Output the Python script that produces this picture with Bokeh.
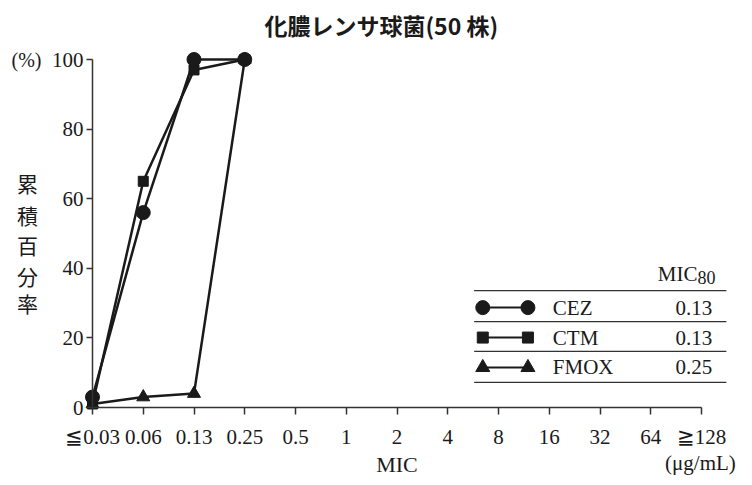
from bokeh.plotting import figure
from bokeh.models import Range1d, FixedTicker, Label
from bokeh.embed import file_html
from bokeh.resources import INLINE

# ---- data ----
categories = ["≦0.03", "0.06", "0.13", "0.25", "0.5", "1", "2", "4", "8", "16", "32", "64", "≧128"]
cez = [3, 56, 100, 100]
ctm = [1, 65, 97, 100]
fmox = [1, 3, 4, 100]
series_names = ["CEZ", "CTM", "FMOX"]
mic80 = ["0.13", "0.13", "0.25"]
y_ticks = [0, 20, 40, 60, 80, 100]

SERIF = "Liberation Serif"
CJK = "Noto Sans CJK JP"
INK = "#1a1a1a"

W, H = 744, 477
PX_X, X0 = 50.75, 92.0     # px per category step, pixel of first category
PX_Y, Y0 = 3.48, 407.0     # px per percent, pixel of 0 %

x_idx = list(range(len(categories)))

p = figure(width=W, height=H,
           x_range=Range1d(-X0 / PX_X, (W - X0) / PX_X),
           y_range=Range1d((Y0 - H) / PX_Y, Y0 / PX_Y),
           output_backend="svg", toolbar_location=None,
           min_border=0)
p.grid.visible = False
p.outline_line_color = None
p.background_fill_color = "white"

xa = p.xaxis[0]
ya = p.yaxis[0]
# axes
xa.ticker = FixedTicker(ticks=x_idx)
xa.major_label_overrides = {i: c for i, c in zip(x_idx, categories)}
xa.bounds = (0, len(categories) - 1)
xa.fixed_location = 0
xa.minor_tick_line_color = None
xa.major_tick_out = 7
xa.major_tick_in = 0
xa.major_label_standoff = 10
ya.ticker = FixedTicker(ticks=y_ticks)
ya.bounds = (0, 100)
ya.fixed_location = 0
ya.minor_tick_line_color = None
ya.major_tick_out = 6
ya.major_tick_in = 0
ya.major_label_standoff = 3
for ax in (xa, ya):
    ax.axis_line_color = "#333333"
    ax.axis_line_width = 1.5
    ax.major_tick_line_color = "#333333"
    ax.major_tick_line_width = 1.5
    ax.major_label_text_font = SERIF
    ax.major_label_text_font_size = "21px"
    ax.major_label_text_color = INK

# data lines
markers = ["circle", "square", "triangle"]
for vals, mk, ms in [(fmox, "triangle", 13), (ctm, "square", 10), (cez, "circle", 14)]:
    xs = x_idx[:len(vals)]
    p.line(xs, vals, line_color=INK, line_width=2.5)
    p.scatter(xs, vals, marker=mk, size=ms, fill_color=INK, line_color=INK)

# legend table
rule_y = [33.6, 24.7, 16.1, 7.2]
p.segment(x0=[7.52] * 4, y0=rule_y, x1=[12.49] * 4, y1=rule_y, line_color="#333333", line_width=1.3)
row_y = [28.7, 20.1, 11.5]
leg_sizes = [14, 11, 14]
for name, val, yy, mk, ms in zip(series_names, mic80, row_y, markers, leg_sizes):
    p.line([7.69, 8.58], [yy, yy], line_color=INK, line_width=2)
    p.scatter([7.69, 8.58], [yy, yy], marker=mk, size=ms, fill_color=INK, line_color=INK)
    p.add_layout(Label(x=9.07, y=yy, text=name, text_font=SERIF, text_font_size="21px",
                       text_color=INK, text_align="left", text_baseline="middle"))
    p.add_layout(Label(x=12.21, y=yy, text=val, text_font=SERIF, text_font_size="21px",
                       text_color=INK, text_align="right", text_baseline="middle"))
p.add_layout(Label(x=11.92, y=38.5, text="MIC", text_font=SERIF, text_font_size="21px",
                   text_color=INK, text_align="right", text_baseline="middle"))
p.add_layout(Label(x=11.92, y=37.3, text="80", text_font=SERIF, text_font_size="18px",
                   text_color=INK, text_align="left", text_baseline="middle"))

# texts
p.add_layout(Label(x=5.69, y=110.0, text="化膿レンサ球菌(50 株)", text_font=CJK,
                   text_font_size="23px", text_font_style="bold", text_color=INK,
                   text_align="center", text_baseline="middle"))
p.add_layout(Label(x=-1.3, y=100, text="(%)", text_font=SERIF, text_font_size="20px",
                   text_color=INK, text_align="center", text_baseline="middle"))
for ch, yy in zip("累積百分率", [64.4, 55.2, 46.6, 37.9, 29.9]):
    p.add_layout(Label(x=-1.28, y=yy, text=ch, text_font=CJK, text_font_size="21px",
                       text_color=INK, text_align="center", text_baseline="middle"))
p.add_layout(Label(x=6.0, y=-16.3, text="MIC", text_font=SERIF, text_font_size="22px",
                   text_color=INK, text_align="center", text_baseline="middle"))
p.add_layout(Label(x=11.98, y=-16.0, text="(μg/mL)", text_font=SERIF, text_font_size="21px",
                   text_color=INK, text_align="center", text_baseline="middle"))

open("out.html", "w").write(file_html(p, INLINE))
